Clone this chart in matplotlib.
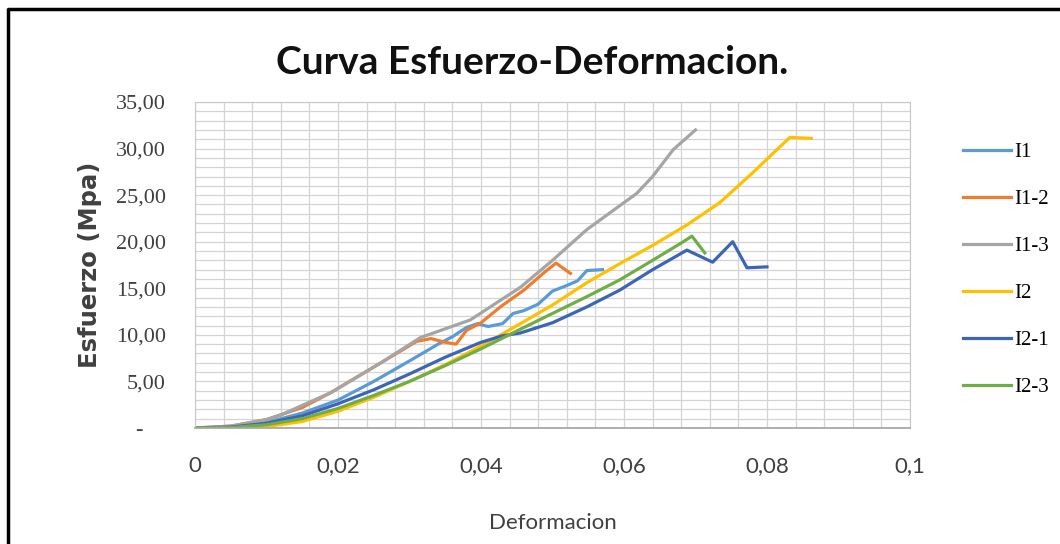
import matplotlib
matplotlib.use('Agg')
import matplotlib.pyplot as plt
from matplotlib.lines import Line2D
from matplotlib.ticker import MultipleLocator

# === DADOS (deformacion, esfuerzo en MPa) ===
i1_x = [0, 0.005, 0.010, 0.015, 0.020, 0.025, 0.030, 0.034, 0.036, 0.038, 0.0395,
        0.041, 0.043, 0.0445, 0.046, 0.048, 0.050, 0.052, 0.0535, 0.0548, 0.057]
i1_y = [0, 0.1, 0.6, 1.6, 3.0, 5.0, 7.2, 9.0, 9.8, 10.8, 11.2,
        10.9, 11.2, 12.3, 12.6, 13.3, 14.7, 15.3, 15.8, 16.9, 17.0]

i1_2_x = [0, 0.005, 0.010, 0.015, 0.019, 0.026, 0.031, 0.033, 0.035, 0.0365, 0.038,
          0.040, 0.0427, 0.046, 0.049, 0.0505, 0.0525]
i1_2_y = [0, 0.2, 0.9, 2.2, 3.8, 7.0, 9.3, 9.6, 9.2, 9.0, 10.5,
          11.3, 13.0, 14.8, 16.8, 17.7, 16.6]

i1_3_x = [0, 0.005, 0.010, 0.012, 0.019, 0.026, 0.0315, 0.0385, 0.0427, 0.0455,
          0.050, 0.0548, 0.0618, 0.064, 0.0669, 0.070]
i1_3_y = [0, 0.2, 0.9, 1.4, 3.8, 7.0, 9.7, 11.6, 13.7, 15.1,
          18.0, 21.3, 25.2, 27.0, 29.9, 32.0]

i2_x = [0, 0.005, 0.010, 0.015, 0.020, 0.025, 0.030, 0.035, 0.040, 0.0455, 0.050,
        0.0548, 0.060, 0.064, 0.0688, 0.0734, 0.078, 0.081, 0.0832, 0.0862]
i2_y = [0, 0.02, 0.15, 0.7, 1.8, 3.3, 5.0, 6.8, 8.8, 11.2, 13.2,
        15.6, 17.9, 19.6, 21.8, 24.2, 27.4, 29.6, 31.2, 31.1]

i2_1_x = [0, 0.005, 0.010, 0.015, 0.020, 0.025, 0.030, 0.035, 0.040, 0.043, 0.0455,
          0.050, 0.0548, 0.0594, 0.064, 0.0688, 0.0724, 0.0752, 0.0772, 0.080]
i2_1_y = [0, 0.1, 0.5, 1.3, 2.6, 4.1, 5.8, 7.6, 9.2, 9.9, 10.2,
          11.3, 13.0, 14.8, 17.0, 19.1, 17.8, 20.0, 17.2, 17.3]

i2_3_x = [0, 0.005, 0.010, 0.015, 0.020, 0.025, 0.030, 0.035, 0.040, 0.0455, 0.050,
          0.0548, 0.0594, 0.064, 0.0683, 0.0695, 0.0713]
i2_3_y = [0, 0.05, 0.35, 1.0, 2.1, 3.5, 5.0, 6.7, 8.5, 10.6, 12.3,
          14.1, 15.9, 18.0, 20.0, 20.6, 18.8]

series = ['I1', 'I1-2', 'I1-3', 'I2', 'I2-1', 'I2-3']
colores = ['#5B9BD5', '#ED7D31', '#A5A5A5', '#FFC000', '#3D65B5', '#70AD47']
datos = [(i1_x, i1_y), (i1_2_x, i1_2_y), (i1_3_x, i1_3_y),
         (i2_x, i2_y), (i2_1_x, i2_1_y), (i2_3_x, i2_3_y)]

x_ticks = [0, 0.02, 0.04, 0.06, 0.08, 0.1]
x_etiquetas = ['0', '0,02', '0,04', '0,06', '0,08', '0,1']
y_ticks = [0, 5, 10, 15, 20, 25, 30, 35]
y_etiquetas = ['-    ', '5,00', '10,00', '15,00', '20,00', '25,00', '30,00', '35,00']

fuente_sans = 'Lato'
fuente_serif = 'Liberation Serif'

# === GRAFICO ===
fig = plt.figure(figsize=(10.6, 5.44), dpi=100)
ax = fig.add_axes([195 / 1060, 1 - 428 / 544, 715 / 1060, 326 / 544])

for nombre, color, (xs, ys) in zip(series, colores, datos):
    ax.plot(xs, ys, color=color, lw=2.3, label=nombre, solid_joinstyle='round')

ax.set_xlim(0, 0.1)
ax.set_ylim(0, 35)
ax.xaxis.set_minor_locator(MultipleLocator(0.004))
ax.yaxis.set_minor_locator(MultipleLocator(1))
ax.grid(which='both', color='#D4D4D4', lw=0.9)
ax.set_axisbelow(True)
for lado in ['top', 'right', 'left']:
    ax.spines[lado].set_color('#C8C8C8')
ax.spines['bottom'].set_color('#A8A8A8')
ax.spines['bottom'].set_linewidth(1.3)

ax.set_xticks(x_ticks)
ax.set_xticklabels(x_etiquetas, family=fuente_sans, fontsize=16, color='#404040')
ax.set_yticks(y_ticks)
ax.set_yticklabels(y_etiquetas, family=fuente_serif, fontsize=16, color='#404040')
ax.tick_params(which='both', length=0)
ax.tick_params(axis='x', pad=20)
ax.tick_params(axis='y', pad=21)

ax.set_xlabel('Deformacion', family=fuente_sans, fontsize=16, color='#404040', labelpad=27)
ax.set_ylabel('Esfuerzo (Mpa)', fontsize=17.5, fontweight='bold', color='#404040', labelpad=10)

fig.text(0.502, 0.886, 'Curva Esfuerzo-Deformacion.', family=fuente_sans,
         fontsize=28, fontweight='bold', ha='center', va='center', color='#111111')

ax.legend(loc='center left', bbox_to_anchor=(760 / 715, 0.485), frameon=False,
          prop={'family': fuente_serif, 'size': 15}, handlelength=2.3,
          handletextpad=0.15, labelspacing=1.31, borderaxespad=0)

# marco exterior
fig.add_artist(Line2D([7.5 / 1060, 7.5 / 1060, 1.0], [0, 1 - 8.5 / 544, 1 - 8.5 / 544],
                      transform=fig.transFigure, color='black', lw=2.5))

plt.savefig('out.png', dpi=100)
